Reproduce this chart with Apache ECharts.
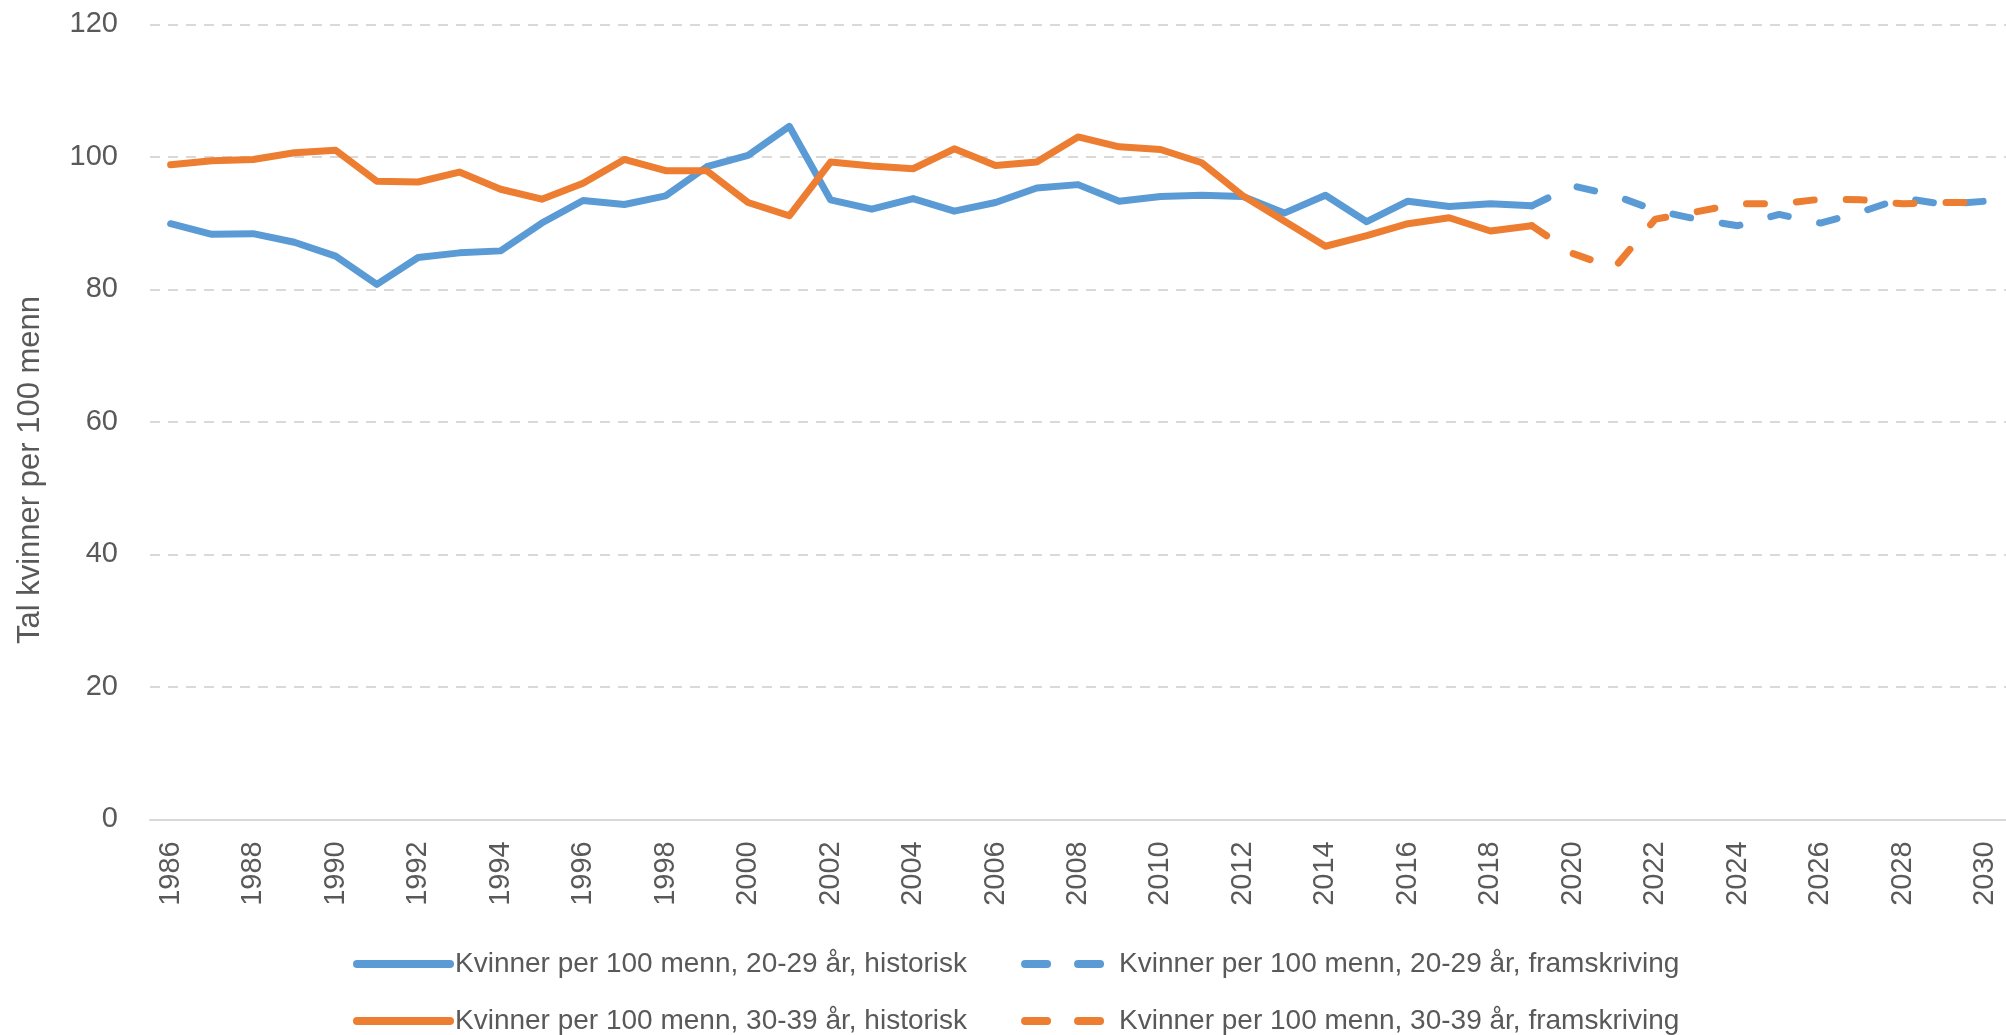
<!DOCTYPE html>
<html>
<head>
<meta charset="utf-8">
<script src="https://cdn.jsdelivr.net/npm/echarts@6/dist/echarts.min.js"></script>
<style>
html,body{margin:0;padding:0;background:#fff;}
#chart{width:2006px;height:1035px;}
</style>
</head>
<body>
<div id="chart"></div>
<script>
// ---- data ----
var years = [];
for (var y = 1986; y <= 2030; y++) years.push(String(y));

var yTicks = [0, 20, 40, 60, 80, 100, 120];

var nameBlueHist = 'Kvinner per 100 menn, 20-29 år, historisk';
var nameBlueProj = 'Kvinner per 100 menn, 20-29 år, framskriving';
var nameOrangeHist = 'Kvinner per 100 menn, 30-39 år, historisk';
var nameOrangeProj = 'Kvinner per 100 menn, 30-39 år, framskriving';
var yAxisTitle = 'Tal kvinner per 100 menn';

// 1986–2019
var blueHist = [89.9, 88.3, 88.4, 87.1, 85.0, 80.75, 84.8, 85.5, 85.8, 90.0,
  93.4, 92.8, 94.1, 98.5, 100.2, 104.6, 93.5, 92.1, 93.7, 91.8,
  93.1, 95.3, 95.8, 93.3, 94.0, 94.2, 94.0, 91.5, 94.2, 90.2,
  93.3, 92.5, 92.9, 92.6];
var orangeHist = [98.8, 99.4, 99.6, 100.6, 101.0, 96.3, 96.2, 97.7, 95.1, 93.6,
  96.0, 99.6, 97.9, 97.9, 93.1, 91.1, 99.2, 98.6, 98.2, 101.2,
  98.7, 99.2, 103.0, 101.5, 101.1, 99.1, 94.1, 90.3, 86.5, 88.1,
  89.9, 90.8, 88.8, 89.6];
// 2019–2030
var projStartYear = 2019;
var blueProj = [92.6, 95.6, 94.2, 91.9, 90.6, 89.6, 91.3, 90.0, 91.7, 93.8, 92.8, 93.3];
var orangeProj = [89.6, 85.4, 83.2, 90.6, 91.7, 92.9, 92.9, 93.6, 93.5, 92.9, 93.1, 93.1];

function alignHist(arr) {
  return years.map(function (yr, i) { return i < arr.length ? arr[i] : null; });
}
function alignProj(arr) {
  var off = projStartYear - 1986;
  return years.map(function (yr, i) {
    var j = i - off;
    return (j >= 0 && j < arr.length) ? arr[j] : null;
  });
}

var BLUE = '#5b9bd5', ORANGE = '#ed7d31';
var FONT = '"Liberation Sans", Arial, sans-serif';
var TXT = '#595959';

var chart = echarts.init(document.getElementById('chart'), null, {renderer: 'canvas'});

function lineSeries(name, data, color, dashed, z) {
  return {
    name: name, type: 'line', data: data, z: z,
    symbol: 'none', showSymbol: false, connectNulls: false,
    lineStyle: {color: color, width: 7, type: dashed ? [18, 32] : 'solid', cap: 'round', join: 'round'},
    itemStyle: {color: color},
    emphasis: {disabled: true},
    animation: false
  };
}

function legendAt(top, names, color) {
  var hidden = {color: 'rgba(0,0,0,0)', borderWidth: 0, opacity: 0};
  return {
    left: 348, top: top, orient: 'horizontal',
    itemWidth: 93, itemHeight: 16, itemGap: 50,
    textStyle: {fontFamily: FONT, fontSize: 28, color: TXT},
    selectedMode: false,
    data: [
      {name: names[0], itemStyle: hidden, lineStyle: {color: color, width: 8, type: 'solid', cap: 'round'}},
      {name: names[1], itemStyle: hidden, lineStyle: {color: color, width: 8, type: [22, 31], dashOffset: -4, cap: 'round'}}
    ]
  };
}

chart.setOption({
  animation: false,
  backgroundColor: '#ffffff',
  grid: {left: 150, top: 24.3, right: -9, height: 795, containLabel: false},
  xAxis: {
    type: 'category', data: years, boundaryGap: true,
    axisLine: {show: true, lineStyle: {color: '#d9d9d9', width: 2}},
    axisTick: {show: false},
    axisLabel: {interval: 1, rotate: 90, margin: 22, fontFamily: FONT, fontSize: 29, color: TXT},
    splitLine: {show: false}
  },
  yAxis: {
    type: 'value', min: yTicks[0], max: yTicks[yTicks.length - 1], interval: 20,
    axisLine: {show: false}, axisTick: {show: false},
    axisLabel: {margin: 32, fontFamily: FONT, fontSize: 29, color: TXT},
    splitLine: {show: true, lineStyle: {color: '#d9d9d9', width: 2, type: [10, 8]}}
  },
  legend: [
    legendAt(945, [nameBlueHist, nameBlueProj], BLUE),
    legendAt(1002, [nameOrangeHist, nameOrangeProj], ORANGE)
  ],
  graphic: [{
    type: 'text', x: 30, y: 470, rotation: Math.PI / 2,
    style: {text: yAxisTitle, x: 0, y: 0, align: 'center', verticalAlign: 'middle',
      font: '31px ' + FONT, fill: TXT}
  }],
  series: [
    lineSeries(nameBlueHist, alignHist(blueHist), BLUE, false, 2),
    lineSeries(nameOrangeHist, alignHist(orangeHist), ORANGE, false, 3),
    lineSeries(nameBlueProj, alignProj(blueProj), BLUE, true, 4),
    lineSeries(nameOrangeProj, alignProj(orangeProj), ORANGE, true, 5)
  ]
});
</script>
</body>
</html>
